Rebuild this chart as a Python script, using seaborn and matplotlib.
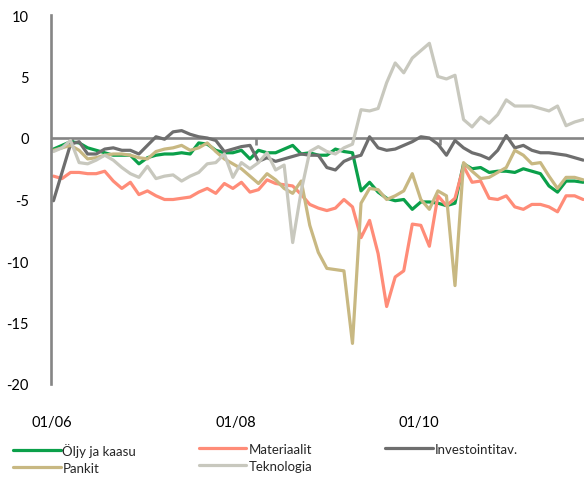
import pandas as pd
import matplotlib
matplotlib.use("Agg")
import matplotlib.pyplot as plt
import seaborn as sns

# values (one point per period)
oljy = [-0.9, -0.6, -0.3, -0.4, -0.8, -1.0, -1.2, -1.4, -1.4, -1.4,
        -2.1, -1.6, -1.4, -1.3, -1.3, -1.2, -1.3, -0.4, -0.5, -1.0,
        -1.2, -1.2, -1.0, -1.7, -1.0, -1.2, -1.2, -0.9, -0.6, -1.3,
        -1.2, -1.4, -1.4, -0.9, -1.1, -1.2, -4.3, -3.6, -4.4, -4.9,
        -5.1, -5.0, -5.8, -5.2, -5.2, -5.3, -5.5, -5.3, -2.1, -2.5,
        -2.4, -2.8, -2.7, -2.7, -2.8, -2.5, -2.7, -2.9, -3.9, -4.4,
        -3.5, -3.5, -3.6]
materiaalit = [-3.1, -3.3, -2.8, -2.8, -2.9, -2.9, -2.7, -3.5, -4.1, -3.6,
               -4.6, -4.3, -4.7, -5.0, -5.0, -4.9, -4.8, -4.4, -4.1, -4.5,
               -3.7, -4.1, -3.6, -4.4, -4.2, -3.4, -3.7, -3.8, -3.9, -4.6,
               -5.4, -5.7, -5.9, -5.7, -5.0, -5.6, -8.1, -6.7, -9.4, -13.7,
               -11.3, -10.8, -7.0, -7.1, -8.8, -4.7, -5.5, -4.9, -2.3, -3.6,
               -3.5, -4.9, -5.0, -4.7, -5.6, -5.8, -5.4, -5.4, -5.6, -6.0,
               -4.7, -4.7, -5.0]
investointi = [-5.1, -2.8, -0.5, -0.3, -1.3, -1.3, -0.9, -0.8, -1.0, -1.0,
               -1.3, -0.6, 0.1, -0.1, 0.5, 0.6, 0.3, 0.1, 0.0, -0.2,
               -1.1, -0.9, -0.7, -0.6, -1.9, -1.6, -1.9, -1.7, -1.5, -1.3,
               -1.4, -1.4, -2.4, -2.6, -1.9, -1.6, -1.4, 0.1, -0.8, -1.0,
               -0.9, -0.6, -0.3, 0.1, 0.0, -0.5, -1.4, -0.2, -0.8, -1.2,
               -1.4, -1.7, -1.0, 0.2, -0.8, -0.6, -1.0, -1.2, -1.2, -1.3,
               -1.4, -1.6, -1.8]
pankit = [-1.0, -0.8, -0.6, -1.0, -1.7, -1.6, -1.4, -1.3, -1.3, -1.4,
          -1.6, -1.7, -1.1, -0.9, -0.8, -0.6, -1.0, -0.8, -0.4, -1.1,
          -1.7, -2.1, -2.5, -3.1, -3.7, -2.9, -3.4, -4.1, -4.5, -3.5,
          -7.1, -9.3, -10.6, -10.7, -10.8, -16.7, -5.3, -4.1, -4.2, -5.0,
          -4.7, -4.3, -2.9, -5.0, -5.8, -4.3, -4.7, -12.0, -2.0, -2.7,
          -3.3, -3.2, -2.8, -2.4, -1.0, -1.4, -2.1, -2.0, -3.1, -4.1,
          -3.2, -3.2, -3.4]
teknologia = [-1.1, -0.8, -0.2, -2.0, -2.1, -1.8, -1.4, -1.8, -2.4, -2.9,
              -3.2, -2.3, -3.3, -3.1, -3.0, -3.5, -3.1, -2.8, -2.1, -2.0,
              -1.3, -3.2, -2.0, -2.5, -2.0, -1.2, -2.6, -2.2, -8.5, -4.3,
              -1.1, -0.7, -1.1, -1.3, -0.8, -0.5, 2.3, 2.2, 2.4, 4.5,
              6.1, 5.3, 6.5, 7.1, 7.7, 5.0, 4.8, 5.1, 1.5, 0.9,
              1.7, 1.2, 1.9, 3.1, 2.6, 2.6, 2.6, 2.4, 2.2, 2.6,
              1.0, 1.3, 1.5]

names = ["Öljy ja kaasu", "Materiaalit", "Investointitav.", "Pankit", "Teknologia"]
colors = ["#0BA04A", "#FF8C78", "#6E6E6E", "#C8B882", "#C8C8BE"]
tick_pos = [2.2, 23.7, 45.2]
tick_labels = ["01/06", "01/08", "01/10"]

series = [oljy, materiaalit, investointi, pankit, teknologia]
rows = []
for name, vals in zip(names, series):
    for i, v in enumerate(vals):
        rows.append({"t": i, "value": v, "series": name})
df = pd.DataFrame(rows)

sns.set_style("white")
plt.rcParams["font.family"] = ["Lato", "DejaVu Sans"]
plt.rcParams["axes.unicode_minus"] = False

grey = "#858585"
fig = plt.figure(figsize=(5.84, 4.81), dpi=100)
ax = fig.add_axes([51 / 584, 1 - 385 / 481, 1 - 51 / 584, 369 / 481])

ax.axhline(0, color=grey, lw=1.9, zorder=1.5)
sns.lineplot(data=df, x="t", y="value", hue="series", hue_order=names,
             palette=colors, linewidth=2.3, legend=False, ax=ax, zorder=2)

ax.set_xlim(-0.29, 62.1)
ax.set_ylim(-20, 10)
ax.set_yticks(range(-20, 11, 5))
ax.set_yticklabels([str(v) for v in range(-20, 11, 5)])
ax.set_xticks(tick_pos)
ax.set_xticklabels(tick_labels, ha="right")
ax.set_xlabel("")
ax.set_ylabel("")

for s in ["top", "right", "bottom"]:
    ax.spines[s].set_visible(False)
ax.spines["left"].set_color(grey)
ax.spines["left"].set_linewidth(1.9)
ax.tick_params(axis="y", direction="out", length=5, width=1.9, color=grey,
               labelsize=10.5, pad=11, labelcolor="#000000")
ax.tick_params(axis="x", length=0, labelsize=10.5, pad=22, labelcolor="#000000")

# small tick marks on the zero line
sec = ax.secondary_xaxis(2 / 3)
sec.set_xticks(tick_pos)
sec.set_xticklabels([])
sec.tick_params(axis="x", direction="in", length=5, width=1.9, color=grey)
for s in sec.spines.values():
    s.set_visible(False)
sec.set_zorder(1.6)

lines = ax.get_lines()[1:]
handle_map = dict(zip(names, lines))
cols = [(13, ["Öljy ja kaasu", "Pankit"]),
        (199, ["Materiaalit", "Teknologia"]),
        (385, ["Investointitav."])]
for x0, labs in cols:
    fig.legend([handle_map[l] for l in labs], labs, loc="upper left",
               bbox_to_anchor=(x0 / 584, 1 - 444 / 481), frameon=False,
               fontsize=9.5, handlelength=3.6, handletextpad=0.15,
               borderpad=0, borderaxespad=0, labelspacing=0.38)

fig.savefig("out.png", dpi=100)
